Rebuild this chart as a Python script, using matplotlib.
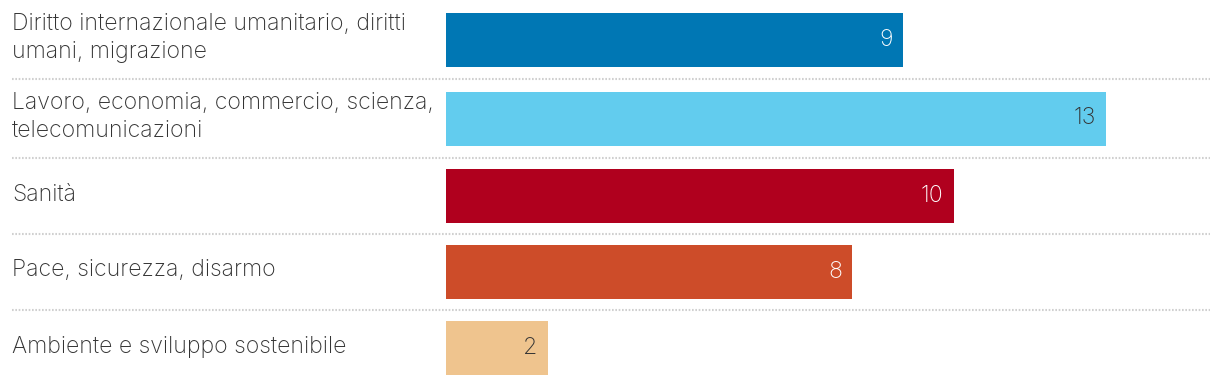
import matplotlib
matplotlib.use("Agg")
import matplotlib.pyplot as plt
import numpy as np

categories = [
    "Diritto internazionale umanitario, diritti\numani, migrazione",
    "Lavoro, economia, commercio, scienza,\ntelecomunicazioni",
    "Sanità",
    "Pace, sicurezza, disarmo",
    "Ambiente e sviluppo sostenibile",
]
values = [9, 13, 10, 8, 2]
colors = ["#0077B4", "#62CCEE", "#B0001E", "#CD4C29", "#EFC48E"]
value_colors = ["white", "#333333", "white", "white", "#333333"]

W, H = 1220, 386
fig = plt.figure(figsize=(W / 100, H / 100), dpi=100)
ax = fig.add_axes([0, 0, 1, 1])

x0_px = 446.0
px_per_unit = 50.75
ax.set_xlim(-x0_px / px_per_unit, (W - x0_px) / px_per_unit)
ax.set_ylim(H, 0)
ax.axis("off")

# row heights depend on number of label lines
row_h = [79 if "\n" in c else 76 for c in categories]
edges = np.concatenate([[0], np.cumsum(row_h)])
centers = (edges[:-1] + edges[1:]) / 2

font = "Inter"
fs = 16.6
ax.barh(centers, values, height=54, color=colors, left=0)

for i, (c, v) in enumerate(zip(categories, values)):
    ax.text(12 / W, centers[i] - 1.5, c, transform=ax.get_yaxis_transform(),
            ha="left", va="center", fontsize=fs, color="#333333",
            family=font, fontweight="light", linespacing=1.3)
    ax.text(v - 10 / px_per_unit, centers[i], str(v), ha="right", va="center",
            fontsize=fs, color=value_colors[i], family=font, fontweight="light")

for e in edges[1:-1]:
    ax.plot([12 / W, 1210 / W], [e, e], transform=ax.get_yaxis_transform(),
            color="#d0d0d0", lw=1.5, linestyle=(0, (0.8, 0.8)))

fig.savefig("out.png", dpi=100)
